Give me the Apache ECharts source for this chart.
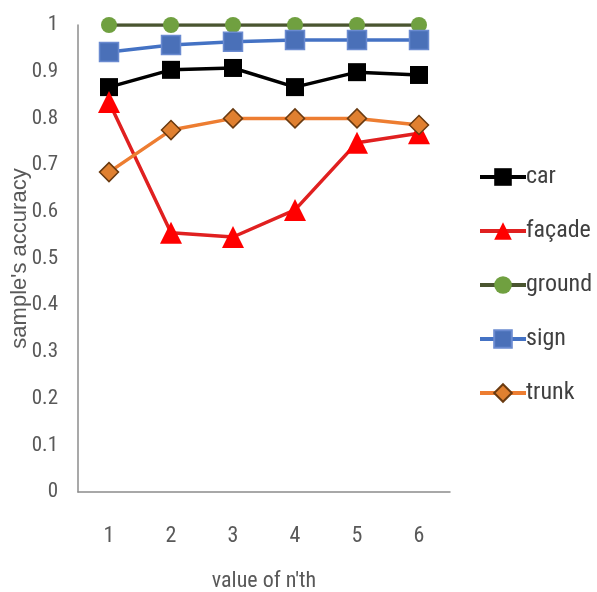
<!DOCTYPE html>
<html><head><meta charset="utf-8">
<script src="https://cdn.jsdelivr.net/npm/echarts@6/dist/echarts.min.js"></script>
<style>html,body{margin:0;padding:0;background:#fff}#c{width:597px;height:592px}</style>
</head><body><div id="c"></div>
<script>
const categories = ['1','2','3','4','5','6'];
const car    = [0.867, 0.904, 0.908, 0.867, 0.899, 0.893];
const facade = [0.835, 0.555, 0.546, 0.604, 0.748, 0.768];
const ground = [1, 1, 1, 1, 1, 1];
const sign   = [0.942, 0.957, 0.964, 0.968, 0.968, 0.968];
const trunk  = [0.685, 0.775, 0.800, 0.800, 0.800, 0.786];
const yTicks = [0, 0.1, 0.2, 0.3, 0.4, 0.5, 0.6, 0.7, 0.8, 0.9, 1];

const FONT = '"Liberation Sans Narrow", "Roboto Condensed", "Open Sans", sans-serif';
const W = 'normal condensed';
const chart = echarts.init(document.getElementById('c'));
function s(name, data, color, symbol, size, mColor, border) {
  return {
    name, type: 'line', data, symbol, symbolSize: size,
    lineStyle: { color, width: 3.5 },
    itemStyle: { color: mColor, borderColor: border || mColor, borderWidth: border ? 1.5 : 0 },
    z: 2
  };
}
chart.setOption({
  animation: false,
  textStyle: { fontFamily: FONT },
  grid: { left: 78, right: 147, top: 25, bottom: 100, containLabel: false, outerBoundsMode: 'none' },
  xAxis: {
    type: 'category', data: categories, boundaryGap: true,
    axisLine: { lineStyle: { color: '#8c8c8c', width: 1.5 } },
    axisTick: { show: false },
    axisLabel: { color: '#595959', fontSize: 22, margin: 33, fontFamily: FONT, fontWeight: W },
    name: "value of n'th", nameLocation: 'middle', nameGap: 78, nameMoveOverlap: false,
    nameTextStyle: { color: '#595959', fontSize: 22, fontFamily: FONT, fontWeight: W }
  },
  yAxis: {
    type: 'value', min: 0, max: 1, interval: 0.1,
    axisLine: { show: true, lineStyle: { color: '#8c8c8c', width: 1.5 } },
    axisTick: { show: false },
    splitLine: { show: false },
    axisLabel: { color: '#595959', fontSize: 21, margin: 20, fontFamily: FONT, fontWeight: W,
      formatter: v => { const t = yTicks.find(x => Math.abs(x - v) < 1e-9); return t === undefined ? '' : String(t); } },
    name: "sample's accuracy", nameLocation: 'middle', nameGap: 47, nameRotate: 90, nameMoveOverlap: false,
    nameTextStyle: { color: '#595959', fontSize: 22, fontFamily: '"Liberation Sans", sans-serif' }
  },
  legend: {
    orient: 'vertical', left: 473, top: 160, itemGap: 30,
    itemWidth: 46, itemHeight: 22,
    lineStyle: { width: 4 },
    textStyle: { color: '#404040', fontSize: 24, fontFamily: FONT, fontWeight: W, padding: [0,0,0,-5] },
    data: ['car', 'façade', 'ground', 'sign', 'trunk']
  },
  series: [
    s('car', car, '#000000', 'rect', 18, '#000000'),
    s('façade', facade, '#e02020', 'triangle', 22, '#ff0000'),
    s('ground', ground, '#4a5530', 'circle', 16, '#70a040'),
    s('sign', sign, '#4472c4', 'rect', 19, '#4a70b8', '#6a8ad0'),
    s('trunk', trunk, '#ed7d31', 'diamond', 19, '#e08030', '#6a3a10')
  ]
});
</script></body></html>
